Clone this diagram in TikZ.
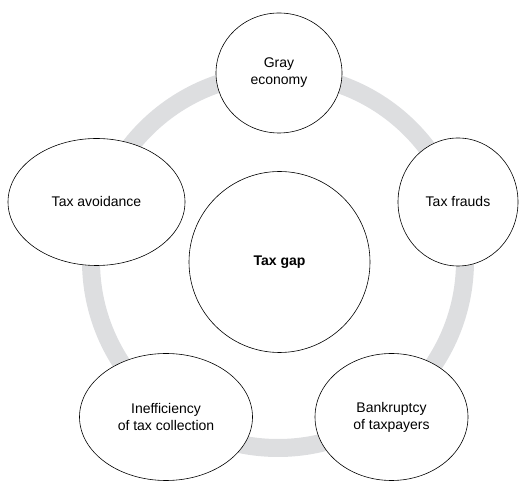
\documentclass[tikz,border=0pt]{standalone}
\usepackage{fontspec}
\setmainfont{Liberation Sans}
\usepackage{xcolor}
\usetikzlibrary{shapes.geometric}
\definecolor{ringgray}{RGB}{221,222,224}

\begin{document}
\begin{tikzpicture}[x=1pt,y=1pt,
    factor/.style={draw, ellipse, line width=0.6pt, fill=white, inner sep=0pt,
      align=center, font=\fontsize{14}{17}\selectfont},
    core/.style={factor, font=\fontsize{14}{17}\selectfont\bfseries}]
    \useasboundingbox (0, 0) rectangle (519, 481);
    % Background Ring
    \draw[line width=18pt, ringgray] (278, 220) circle (187);
    % Central Node
    \node[core, minimum width=181, minimum height=181] (gap) at (279.5, 219) {Tax gap};
    % Outer Factors
    \node[factor, minimum width=126, minimum height=120] (gray) at (279, 408) {Gray\\economy};
    \node[factor, minimum width=177, minimum height=127] (avoid) at (96.5, 279) {Tax avoidance};
    \node[factor, minimum width=120, minimum height=128] (fraud) at (458, 279) {Tax frauds};
    \node[factor, minimum width=173, minimum height=127] (ineff) at (166, 64) {Inefficiency\\of tax collection};
    \node[factor, minimum width=153, minimum height=127] (bankr) at (391.5, 64) {Bankruptcy\\of taxpayers};
\end{tikzpicture}
\end{document}
